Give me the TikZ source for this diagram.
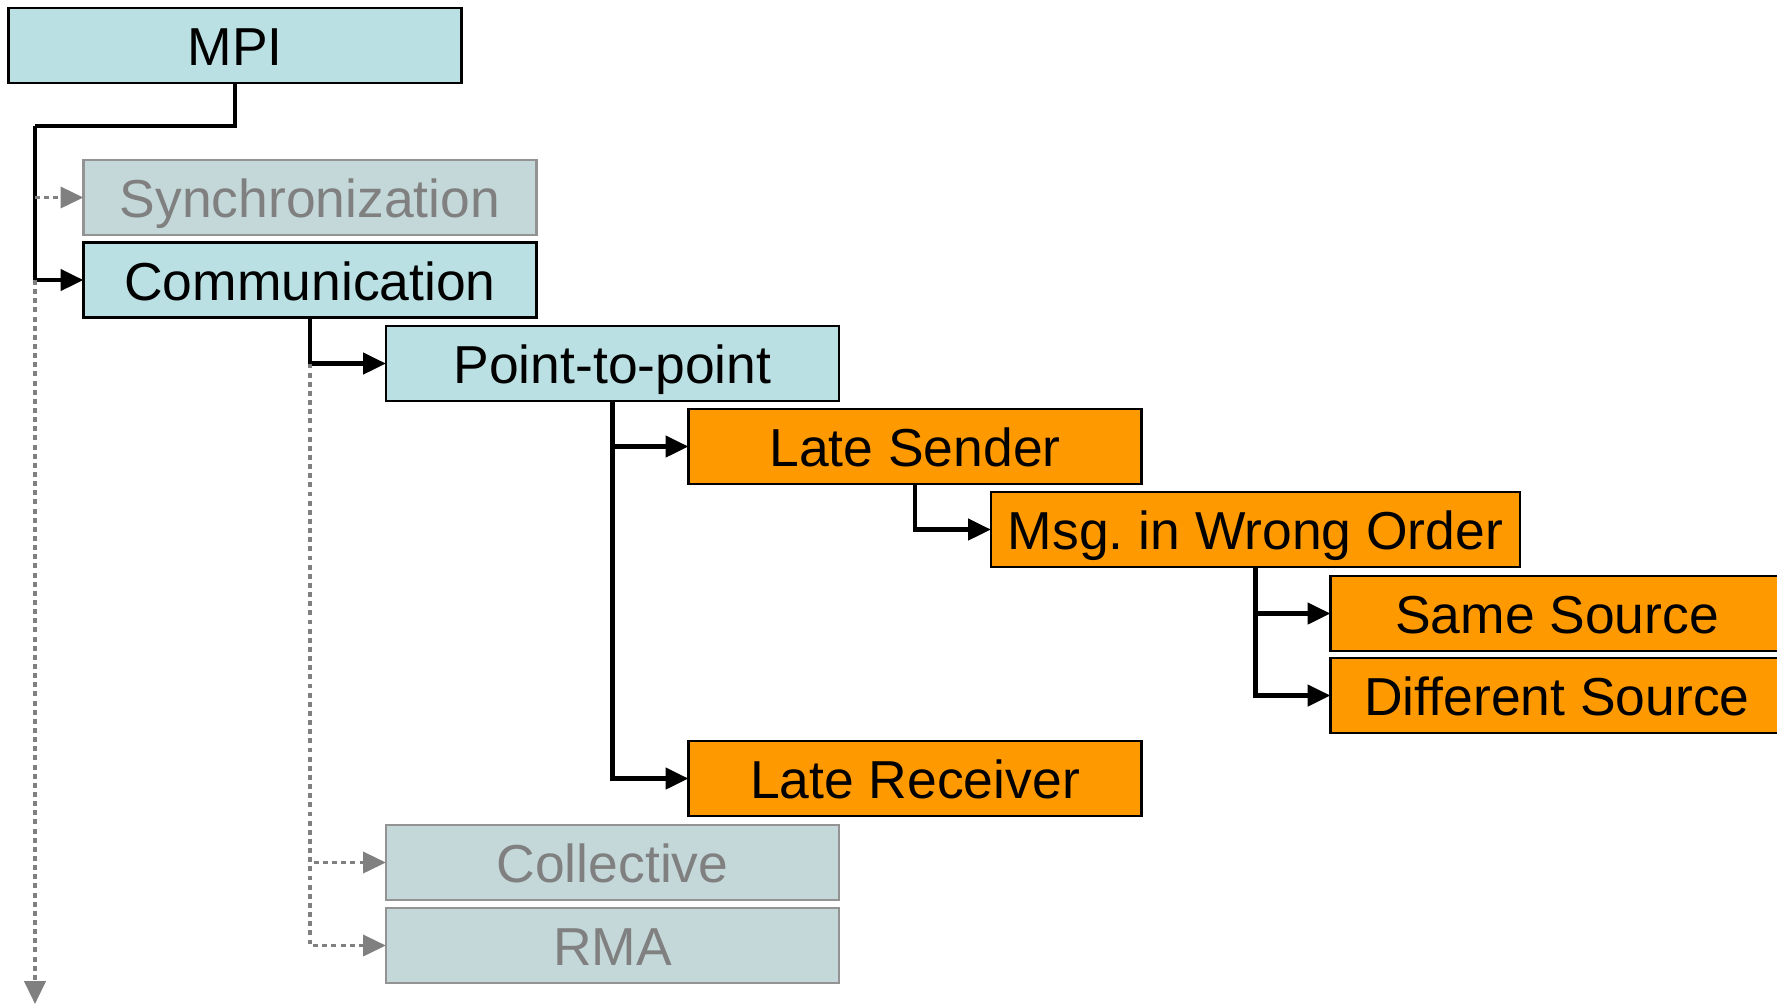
\documentclass[tikz,border=0pt]{standalone}
\usepackage{fontspec}
\setmainfont{Liberation Sans}
\usepackage{tikz}
\usetikzlibrary{arrows.meta,calc,positioning}
\definecolor{azulClaro}{RGB}{186,224,227}
\definecolor{grisClaro}{RGB}{196,216,217}
\definecolor{gris}{RGB}{128,128,128}
\definecolor{naranja}{RGB}{255,153,0}
\tikzstyle{box}   =[rectangle, draw=black, line width=0.7pt,
                    minimum width=4.53cm, minimum height=0.75cm,
                    inner sep=0pt, outer sep=0pt,
                    text height=12.4pt, text depth=1pt,
                    font=\fontsize{15.2}{18}\selectfont]
\tikzstyle{mbox}  =[box, fill=azulClaro]
\tikzstyle{gbox}  =[box, fill=grisClaro, draw=gris!85, text=gris]
\tikzstyle{obox}  =[box, fill=naranja]
\tikzstyle{edge}  =[line width=1.25pt, -{Triangle[length=6.5pt,width=6pt]}]
\tikzstyle{dedge} =[line width=1pt, gris, dash pattern=on 1.4pt off 1.2pt,
                    -{Triangle[length=6.5pt,width=6pt]}]

\begin{document}
\begin{tikzpicture}[x=0.01cm,y=-0.01cm]
    \useasboundingbox (0,0) rectangle (1777,1005);

    % tree of metrics
    \draw (235,45.5)   node(mpi)[mbox]{MPI};
    \draw (310,197.5)  node(sync)[gbox]{Synchronization};
    \draw (310,280)    node(comm)[mbox]{Communication};
    \draw (612.5,363.5) node(p2p)[mbox]{Point-to-point};
    \draw (915,446.5)  node(lsend)[obox]{Late Sender};
    \draw (1255.5,529.5) node(msg)[obox, minimum width=5.29cm]{Msg.\ in Wrong Order};
    \draw (1557,613.5) node(same)[obox]{Same Source};
    \draw (1557,695.5) node(diff)[obox]{Different Source};
    \draw (915,778.5)  node(lrecv)[obox]{Late Receiver};
    \draw (612.5,862.5) node(coll)[gbox]{Collective};
    \draw (612.5,945.5) node(rma)[gbox]{RMA};

    \coordinate (mpiJoin) at (35,126);
    \coordinate (mpiEnd) at (35,1004);

    \draw [edge, -] (mpi.south) |- (mpiJoin);
    \draw [edge] (mpiJoin) |- (comm.west);
    \draw [dedge] (mpiJoin |- sync.west) -- (sync.west);
    \draw [dedge] (mpiJoin |- comm.west) -- (mpiEnd);

    \draw [edge] (comm.south) |- (p2p.west);
    \foreach \j in {coll,rma}
        \draw [dedge] (comm.south |- p2p.west) |- (\j.west);

    \foreach \j in {lsend,lrecv}
        \draw [edge] (p2p.south) |- (\j.west);

    \draw [edge] (lsend.south) |- (msg.west);

    \foreach \j in {same,diff}
        \draw [edge] (msg.south) |- (\j.west);

\end{tikzpicture}
\end{document}
